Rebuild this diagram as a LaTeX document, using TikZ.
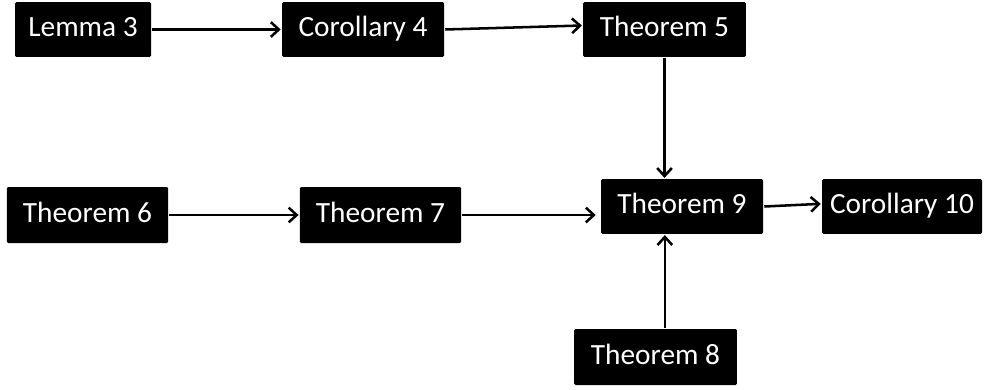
\documentclass[tikz,border=0pt]{standalone}
\usepackage{fontspec}
\setmainfont{Carlito}
\usetikzlibrary{positioning, arrows.meta}

\begin{document}
\begin{tikzpicture}[x=0.75pt, y=-0.75pt, line width=1.9pt,
        >={Straight Barb[length=6pt, width=11pt, line width=1.9pt]},
        res/.style={rectangle, fill=black, text=white, rounded corners=1pt,
            minimum height=41pt, inner sep=0pt, text height=15pt, text depth=3.8pt,
            font=\fontsize{22}{26}\selectfont}]
    \useasboundingbox (0,0) rectangle (984,389);
    	\node[res, minimum width=102pt] (lem3) at (83,29.5) {Lemma 3};
    	\node[res, minimum width=121.5pt] (cor4) at (363,29.5) {Corollary 4};
    	\node[res, minimum width=122pt] (thm5) at (664.5,29.5) {Theorem 5};
    	\node[res, minimum width=121pt, minimum height=42pt] (thm6) at (87.5,215) {Theorem 6};
    	\node[res, minimum width=121pt, minimum height=42pt] (thm7) at (380.5,215) {Theorem 7};
    	\node[res, minimum width=121.5pt] (thm9) at (682,206.5) {Theorem 9};
    	\node[res, minimum width=120pt] (cor10) at (902,206.5) {Corollary 10};
    	\node[res, minimum width=122pt, minimum height=42pt] (thm8) at (655.5,357) {Theorem 8};
		\draw[->] (lem3) -- (cor4);
		\draw[->] (cor4.east) -- ([yshift=3pt]thm5.west);
		\draw[->] (thm5.south) -- (thm5.south |- thm9.north);
		\draw[->] (thm6) -- (thm7);
		\draw[->, shorten >=3pt] (thm7) -- (thm7 -| thm9.west);
		\draw[->] (thm9.east) -- ([yshift=2pt]cor10.west);
		\draw[->] ([xshift=7pt]thm8.north) -- ([xshift=7pt]thm8.north |- thm9.south);
    \end{tikzpicture}
\end{document}
